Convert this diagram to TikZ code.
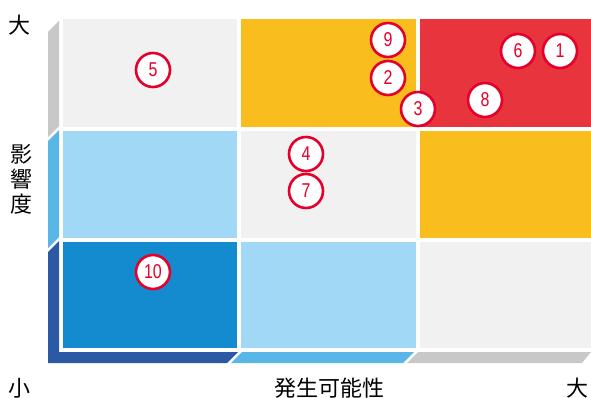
\documentclass[tikz,border=0pt]{standalone}
\usepackage{fontspec}
\setmainfont{Noto Sans CJK JP}
\newfontfamily\jpfont{Noto Sans CJK JP}
\newfontfamily\numfont[FakeStretch=0.8]{Liberation Sans}
\definecolor{cgrey}{HTML}{F1F1F1}
\definecolor{cyellow}{HTML}{F9BE1E}
\definecolor{cred}{HTML}{E8343D}
\definecolor{clblue}{HTML}{A1D8F5}
\definecolor{cblue}{HTML}{138BCE}
\definecolor{sgrey}{HTML}{C8C8C8}
\definecolor{smblue}{HTML}{5BB6E8}
\definecolor{sdblue}{HTML}{2B59A6}
\definecolor{cring}{HTML}{E4002B}
\tikzset{
  num/.style={circle, draw=cring, line width=2.6pt, fill=white, minimum size=34pt, inner sep=0pt,
    text=cring, font=\numfont\fontsize{20}{20}\selectfont},
  lab/.style={inner sep=0pt, font=\jpfont\fontsize{22}{22}\selectfont, text=black}
}
\begin{document}
\begin{tikzpicture}[x=1pt,y=-1pt]
\useasboundingbox (0,0) rectangle (591,398);
% cells
\fill[cgrey]  (63,19) rectangle (237,127);
\fill[cyellow](241,19) rectangle (416,127);
\fill[cred]   (420,19) rectangle (591,127);
\fill[clblue] (63,131) rectangle (237,238);
\fill[cgrey]  (241,131) rectangle (416,238);
\fill[cyellow](420,131) rectangle (591,238);
\fill[cblue]  (63,242) rectangle (237,348);
\fill[clblue] (241,242) rectangle (416,348);
\fill[cgrey]  (420,242) rectangle (591,348);
% side bar
\fill[sgrey]  (48,32) -- (59,21) -- (59,126) -- (48,137) -- cycle;
\fill[smblue] (48,141) -- (59,130) -- (59,237) -- (48,248) -- cycle;
\fill[sdblue] (48,252) -- (59,241) -- (59,352) -- (238,352) -- (227,363) -- (48,363) -- cycle;
% bottom bar
\fill[smblue] (242,352) -- (414,352) -- (403,363) -- (231,363) -- cycle;
\fill[sgrey]  (418,352) -- (591,352) -- (582,363) -- (407,363) -- cycle;
% numbered circles
\node[num] (n5) at (153,70) {5};
\node[num] (n9) at (388,40) {9};
\node[num] (n2) at (388,78) {2};
\node[num] (n3) at (418,109) {3};
\node[num] (n6) at (518,51) {6};
\node[num] (n1) at (560,51) {1};
\node[num] (n8) at (485,100) {8};
\node[num] (n4) at (306,154) {4};
\node[num] (n7) at (306,191) {7};
\node[num] (n10) at (153,272) {10};
% labels
\node[lab] (ytop) at (20,25) {大};
\node[lab] (y1) at (21,154) {影};
\node[lab] (y2) at (21,179) {響};
\node[lab] (y3) at (21,204) {度};
\node[lab] (xlow) at (20,388) {小};
\node[lab] (xlab) at (329,388) {発生可能性};
\node[lab] (xhigh) at (577,388) {大};
\end{tikzpicture}
\end{document}
